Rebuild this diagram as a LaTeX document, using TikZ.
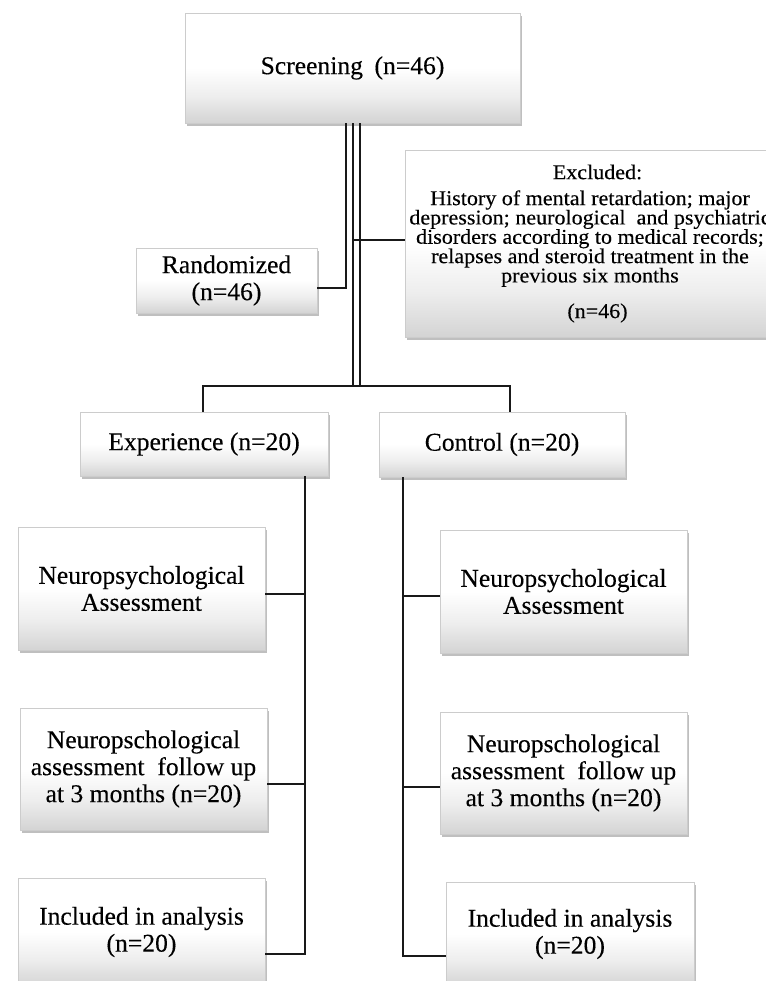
\documentclass[tikz,border=0pt]{standalone}
\usepackage{fontspec}
\setmainfont[FakeBold=0.25]{Liberation Serif}
\newfontfamily\exfont[FakeStretch=1.05,FakeBold=0.25]{Liberation Serif}
\usetikzlibrary{shadows,calc}
\pgfdeclareverticalshading{boxgrad}{100bp}{color(0bp)=(black!17); color(25bp)=(black!17); color(37bp)=(black!7); color(50bp)=(white); color(100bp)=(white)}
\tikzset{
  fbox/.style={draw=black!20, line width=0.5pt, shading=boxgrad,
    drop shadow={shadow xshift=1.5pt, shadow yshift=-2.2pt, opacity=0.45, fill=black!55},
    align=center, inner sep=0pt, text=black,
    font=\fontsize{19.2pt}{20.25pt}\selectfont},
  extext/.style={align=center, inner sep=0pt, text=black,
    font={\exfont\fontsize{15.75pt}{14.5pt}\selectfont}},
  wh/.style 2 args={minimum width=#1*0.75pt, minimum height=#2*0.75pt},
  conn/.style={line width=1.4pt, black!90}
}
\begin{document}
\begin{tikzpicture}[x=0.75pt,y=-0.75pt]
\useasboundingbox (0,0) rectangle (766,981);
\clip (0,0) rectangle (766,981);
\fill[white] (0,0) rectangle (766,981);

% boxes
\node[fbox, wh={335}{110}] (screen) at (352.5,68) {Screening\hspace{0.45em}(n=46)};
\node[fbox, wh={181}{65}] (rand) at (226.5,280.5) {Randomized\\(n=46)};
\node[fbox, wh={380}{187}] (excl) at (595,243.5) {};
\node[extext] (exhead) at (597.5,172) {Excluded:};
\node[extext] (exbody) at (590,238.6)
  {History of mental retardation; major\\
   depression; neurological\ \ and psychiatric\\
   disorders according to medical records;\\
   relapses and steroid treatment in the\\
   previous six months};
\node[extext] (exn) at (597.5,313) {(n=46)};
\node[fbox, wh={248}{64}] (exp) at (204,444) {Experience (n=20)};
\node[fbox, wh={246}{65}] (ctrl) at (502,444.5) {Control (n=20)};

\node[fbox, wh={247}{123}] (L1) at (141.5,588.5) {Neuropsychological\\Assessment};
\node[fbox, wh={247}{122}] (L2) at (143.5,769) {Neuropschological\\assessment\ \ follow up\\at 3 months (n=20)};
\node[fbox, wh={247}{108}] (L3) at (141.5,932) {Included in analysis\\(n=20)};

\node[fbox, wh={247}{123}] (R1) at (563.5,591.5) {Neuropsychological\\Assessment};
\node[fbox, wh={247}{122}] (R2) at (563.5,773) {Neuropschological\\assessment\ \ follow up\\at 3 months (n=20)};
\node[fbox, wh={248}{104}] (R3) at (570,934) {Included in analysis\\(n=20)};

% connectors from screening
\coordinate (rj) at (345.7,288);
\draw[conn] (screen.south -| rj) -- (rj) -- (rj -| rand.east);
\coordinate (mA) at (353.3,386);
\coordinate (mB) at (360,386);
\draw[conn] (screen.south -| mA) -- (mA);
\draw[conn] (screen.south -| mB) -- (mB);
\coordinate (xj) at (353.3,240);
\draw[conn] (xj) -- (xj -| excl.west);
\coordinate (bL) at (203,386);
\coordinate (bR) at (510,386);
\draw[conn] (bL |- exp.north) -- (bL) -- (bR) -- (bR |- ctrl.north);

% experience column
\coordinate (e1) at (305,594);
\coordinate (e2) at (305,784);
\coordinate (e3) at (305,954);
\draw[conn] (exp.south -| e3) -- (e3) -- (e3 -| L3.east);
\draw[conn] (e1) -- (e1 -| L1.east);
\draw[conn] (e2) -- (e2 -| L2.east);

% control column
\coordinate (c1) at (403,596);
\coordinate (c2) at (403,787);
\coordinate (c3) at (403,956);
\draw[conn] (ctrl.south -| c3) -- (c3) -- (c3 -| R3.west);
\draw[conn] (c1) -- (c1 -| R1.west);
\draw[conn] (c2) -- (c2 -| R2.west);
\end{tikzpicture}
\end{document}
